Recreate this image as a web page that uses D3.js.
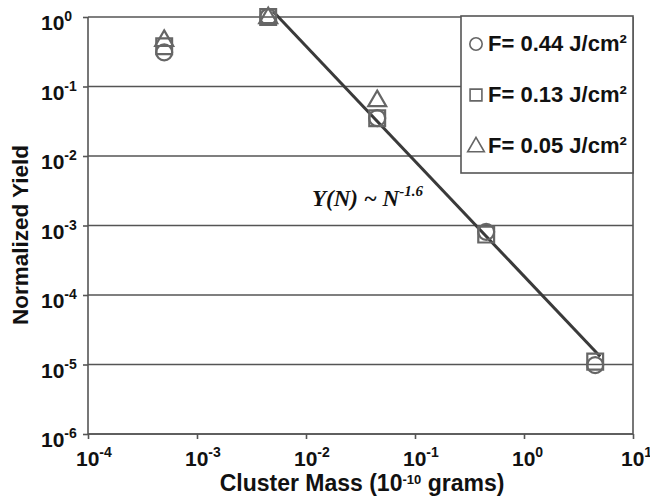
<!DOCTYPE html>
<html>
<head>
<meta charset="utf-8">
<script src="https://cdn.jsdelivr.net/npm/d3@7"></script>
<style>
  body { margin: 0; background: #fff; }
  text { font-family: "Liberation Sans", Arial, sans-serif; font-weight: bold; fill: #111; }
</style>
</head>
<body>
<script>
// cluster mass (1e-10 g)
const massF44 = [5e-4, 4.5e-3, 4.5e-2, 0.45, 4.5]
const yieldF44 = [0.31, 1.0, 0.035, 8.1e-4, 9.8e-6]
const massF13 = [5e-4, 4.5e-3, 4.5e-2, 0.45, 4.5]
const yieldF13 = [0.38, 1.0, 0.035, 7.4e-4, 1.1e-5]
const massF05 = [5e-4, 4.5e-3, 4.5e-2]
const yieldF05 = [0.47, 1.0, 0.064]
// power law fit line ends
const fitMass = [5e-3, 5]
const fitYield = [1.2, 1.3e-5]
const xTickExp = [-4, -3, -2, -1, 0, 1]
const yTickExp = [0, -1, -2, -3, -4, -5, -6]
const legendLabels = ["F= 0.44 J/cm²", "F= 0.13 J/cm²", "F= 0.05 J/cm²"]

const W = 650, H = 496
const L = 88, R = 633, T = 17, B = 434
const grey = "#555"

const svg = d3.select("body").append("svg").attr("width", W).attr("height", H)
svg.append("rect").attr("width", W).attr("height", H).attr("fill", "#fff")

const x = d3.scaleLog().domain([1e-4, 10]).range([L, R])
const y = d3.scaleLog().domain([1e-6, 1]).range([B, T])

// horizontal grid lines
svg.selectAll(".grid").data(yTickExp).enter()
  .append("line")
  .attr("x1", L).attr("x2", R)
  .attr("y1", d => y(Math.pow(10, d))).attr("y2", d => y(Math.pow(10, d)))
  .attr("stroke", grey).attr("stroke-width", 1.6)

// axes
const xAxis = d3.axisBottom(x).tickValues(xTickExp.map(e => Math.pow(10, e))).tickSize(5).tickFormat("")
const yAxis = d3.axisLeft(y).tickValues(yTickExp.map(e => Math.pow(10, e))).tickSize(5).tickFormat("")
const gx = svg.append("g").attr("transform", `translate(0,${B})`).call(xAxis)
const gy = svg.append("g").attr("transform", `translate(${L},0)`).call(yAxis)
gx.selectAll("path,line").attr("stroke", grey).attr("stroke-width", 1.6)
gy.selectAll("path,line").attr("stroke", grey).attr("stroke-width", 1.6)
gx.select(".domain").attr("d", `M${L},0H${R}`)
gy.select(".domain").attr("d", `M0,${T}V${B}`)
svg.append("line").attr("x1", R).attr("x2", R).attr("y1", T).attr("y2", B)
  .attr("stroke", grey).attr("stroke-width", 1.6)

// tick labels
const xl = svg.selectAll(".xl").data(xTickExp).enter().append("text")
  .attr("x", d => x(Math.pow(10, d)) - 12).attr("y", 466)
  .style("font-size", "21px")
xl.append("tspan").text("10")
xl.append("tspan").attr("dy", -9).style("font-size", "14px").text(d => d)

const yl = svg.selectAll(".yl").data(yTickExp).enter().append("text")
  .attr("x", 41).attr("y", d => y(Math.pow(10, d)) + 13)
  .style("font-size", "21px")
yl.append("tspan").text("10")
yl.append("tspan").attr("dy", -9).style("font-size", "14px").text(d => d)

// axis titles
const xt = svg.append("text").attr("x", 362).attr("y", 491).attr("text-anchor", "middle").style("font-size", "23px")
xt.append("tspan").text("Cluster Mass (10")
xt.append("tspan").attr("dy", -7).style("font-size", "13px").text("-10")
xt.append("tspan").attr("dy", 7).text(" grams)")

svg.append("text").attr("transform", "translate(28,235) rotate(-90)")
  .attr("text-anchor", "middle").style("font-size", "22.5px").text("Normalized Yield")

// fit line
svg.append("line")
  .attr("x1", x(fitMass[0])).attr("y1", y(fitYield[0]))
  .attr("x2", x(fitMass[1])).attr("y2", y(fitYield[1]))
  .attr("stroke", "#3a3a3a").attr("stroke-width", 3)

const mk = "#666"
const sym = {
  circle: d3.symbol().type(d3.symbolCircle).size(200),
  square: d3.symbol().type(d3.symbolSquare).size(250),
  triangle: d3.symbol().type(d3.symbolTriangle).size(140)
}
function drawSeries(xs, ys, type, dy) {
  svg.selectAll(".m-" + type).data(xs).enter().append("path")
    .attr("d", sym[type])
    .attr("transform", (d, i) => `translate(${x(d)},${y(ys[i]) + (dy || 0)})`)
    .attr("fill", "none").attr("stroke", mk).attr("stroke-width", 2.2)
}
drawSeries(massF44, yieldF44, "circle")
drawSeries(massF13, yieldF13, "square")
drawSeries(massF05, yieldF05, "triangle", 1)

// legend
const lg = svg.append("g")
lg.append("rect").attr("x", 461).attr("y", 16).attr("width", 172).attr("height", 157)
  .attr("fill", "#fff").attr("stroke", grey).attr("stroke-width", 1.6)
const legY = [44, 95, 146]
legendLabels.forEach((t, i) => {
  lg.append("path").attr("d", d3.symbol().type([d3.symbolCircle, d3.symbolSquare, d3.symbolTriangle][i]).size([120, 140, 120][i]))
    .attr("transform", `translate(476,${legY[i] + (i === 2 ? 1 : 0)})`)
    .attr("fill", "none").attr("stroke", mk).attr("stroke-width", 1.6)
  lg.append("text").attr("x", 488).attr("y", legY[i] + 7).style("font-size", "22px").text(t)
})

// annotation
const an = svg.append("text").attr("x", 312).attr("y", 206)
  .style("font-family", "'Liberation Serif', 'Times New Roman', serif")
  .style("font-style", "italic").style("font-size", "23px")
an.append("tspan").text("Y(N) ~ N")
an.append("tspan").attr("dy", -10).style("font-size", "15px").text("-1.6")
</script>
</body>
</html>
